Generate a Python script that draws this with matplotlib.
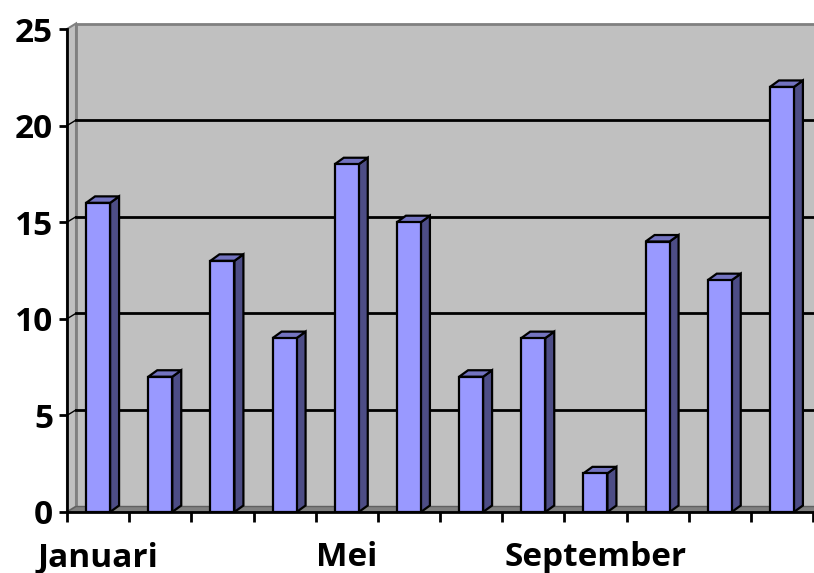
import matplotlib
matplotlib.use("Agg")
import matplotlib.pyplot as plt
from matplotlib.patches import Polygon

# data
months = ["Januari", "Februari", "Maret", "April", "Mei", "Juni", "Juli",
          "Agustus", "September", "Oktober", "November", "Desember"]
values = [16, 7, 13, 9, 18, 15, 7, 9, 2, 14, 12, 22]
y_ticks = [0, 5, 10, 15, 20, 25]

plt.rcParams['font.family'] = ['Open Sans', 'DejaVu Sans']

W, H = 814, 573
fig = plt.figure(figsize=(W / 100, H / 100), dpi=100)
ax = fig.add_axes([67 / W, (H - 512) / H, 746 / W, 483 / H])

n = len(values)
ymax = 25
ax.set_xlim(0, n)
ax.set_ylim(0, ymax)

# depth offsets (pixels -> data units)
px_x = n / 746
px_y = ymax / 483
dx, dy = 9 * px_x, 5.5 * px_y
bdx, bdy = 9 * px_x, 6.5 * px_y

wall_c = "#c0c0c0"
edge_c = "#808080"

# walls and floor
back = Polygon([(dx, dy), (n + dx, dy), (n + dx, ymax + dy), (dx, ymax + dy)],
               closed=True, facecolor=wall_c, edgecolor=edge_c, lw=2, clip_on=False, zorder=0)
left = Polygon([(0, 0), (dx, dy), (dx, ymax + dy), (0, ymax)],
               closed=True, facecolor=wall_c, edgecolor=edge_c, lw=1.5, clip_on=False, zorder=0.5)
floor = Polygon([(0, 0), (n, 0), (n + dx, dy), (dx, dy)],
                closed=True, facecolor=edge_c, edgecolor="#606060", lw=1, clip_on=False, zorder=0.5)
for p in (back, left, floor):
    ax.add_patch(p)

for t in y_ticks[1:-1]:
    ax.plot([dx, n + dx], [t + dy, t + dy], color="black", lw=2, clip_on=False, zorder=0.8)
    ax.plot([0, dx], [t, t + dy], color="black", lw=1, clip_on=False, zorder=0.8)

# bars
bw = 0.386
xs = [i + 0.5 for i in range(n)]
ax.bar(xs, values, width=bw, color="#9999ff", edgecolor="black", lw=1.6, zorder=3)
for x, v in zip(xs, values):
    x0, x1 = x - bw / 2, x + bw / 2
    side = Polygon([(x1, 0), (x1 + bdx, bdy), (x1 + bdx, v + bdy), (x1, v)],
                   closed=True, facecolor="#4d4d86", edgecolor="black", lw=1.6, zorder=2.5)
    top = Polygon([(x0, v), (x0 + bdx, v + bdy), (x1 + bdx, v + bdy), (x1, v)],
                  closed=True, facecolor="#7373c0", edgecolor="black", lw=1.6, zorder=2.5)
    ax.add_patch(side)
    ax.add_patch(top)

ax.set_facecolor("none")
for s in ("top", "right"):
    ax.spines[s].set_visible(False)
for s in ("left", "bottom"):
    ax.spines[s].set_linewidth(2)
    ax.spines[s].set_zorder(4)

ax.set_yticks(y_ticks)
ax.set_yticklabels([str(t) for t in y_ticks])
ax.set_xticks(range(n + 1))
ax.set_xticklabels([])
ax.set_xticks(xs, minor=True)
ax.set_xticklabels([m if i % 4 == 0 else "" for i, m in enumerate(months)], minor=True)
ax.tick_params(axis="x", which="minor", length=0, pad=21)
ax.tick_params(axis="x", which="major", length=7, width=2)
ax.tick_params(axis="y", length=6, width=2, pad=4)
for lab in ax.get_yticklabels() + ax.get_xticklabels(minor=True):
    lab.set_fontsize(24)
    lab.set_fontweight("bold")

fig.savefig("out.png", dpi=100)
